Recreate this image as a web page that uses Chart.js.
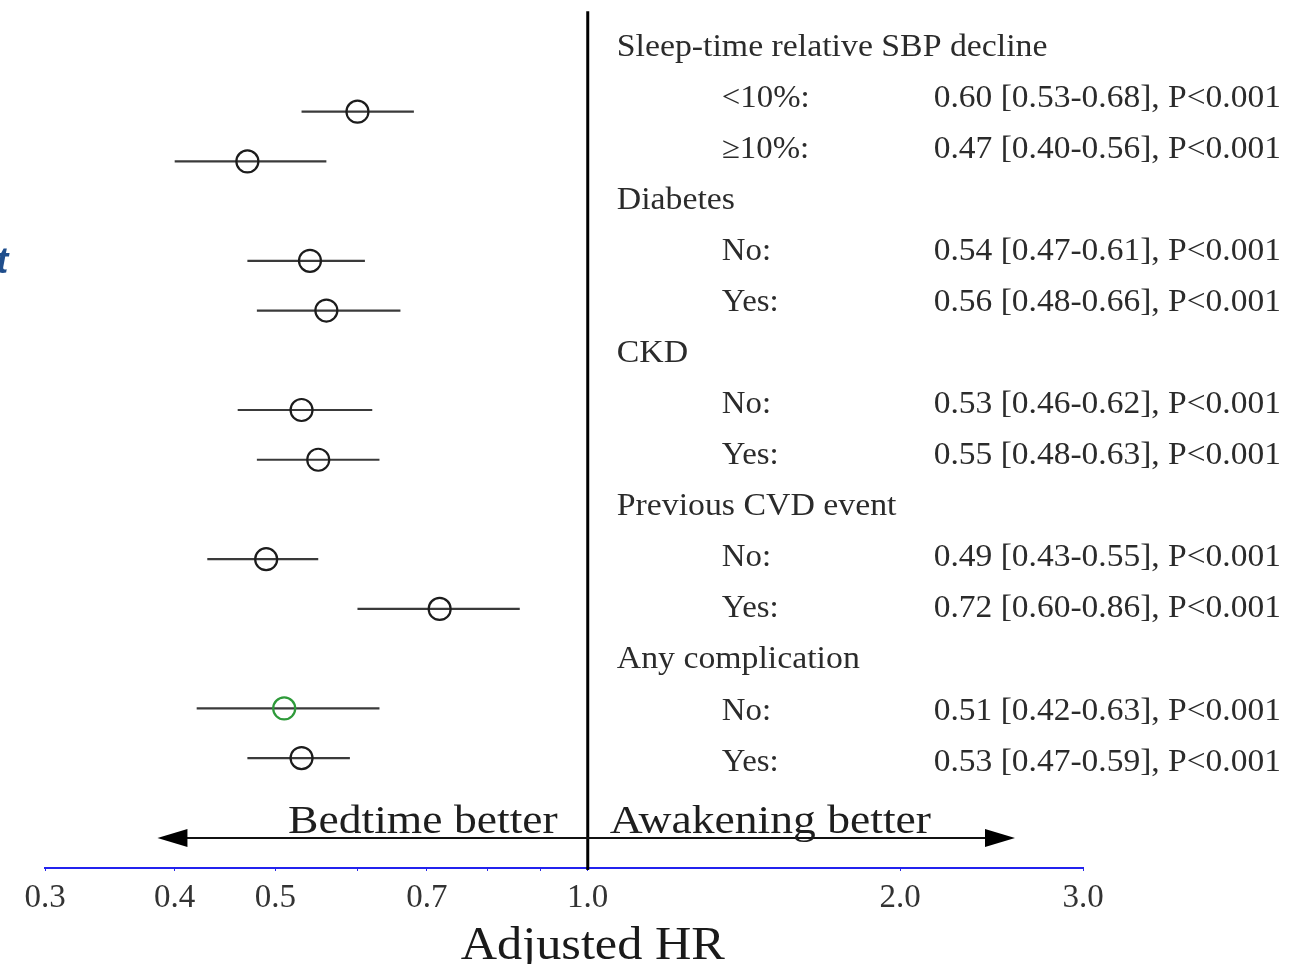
<!DOCTYPE html>
<html>
<head>
<meta charset="utf-8">
<script src="https://cdn.jsdelivr.net/npm/chart.js@4.4.1/dist/chart.umd.min.js"></script>
<style>
  body { margin: 0; background: #fff; }
  canvas { display: block; }
</style>
</head>
<body>
<canvas id="forest" width="1295" height="964"></canvas>
<script>
// subgroup headings and rows
const groups = ['Sleep-time relative SBP decline', 'Diabetes', 'CKD', 'Previous CVD event', 'Any complication'];
const subgroups = ['<10%:', '\u226510%:', 'No:', 'Yes:', 'No:', 'Yes:', 'No:', 'Yes:', 'No:', 'Yes:'];
const groupOf = [0, 0, 1, 1, 2, 2, 3, 3, 4, 4];

// adjusted hazard ratios with 95% CI
const hr = [0.60, 0.47, 0.54, 0.56, 0.53, 0.55, 0.49, 0.72, 0.51, 0.53];
const lower = [0.53, 0.40, 0.47, 0.48, 0.46, 0.48, 0.43, 0.60, 0.42, 0.47];
const upper = [0.68, 0.56, 0.61, 0.66, 0.62, 0.63, 0.55, 0.86, 0.63, 0.59];
const pText = ['<0.001', '<0.001', '<0.001', '<0.001', '<0.001', '<0.001', '<0.001', '<0.001', '<0.001', '<0.001'];

// x axis ticks
const tickValues = [0.3, 0.4, 0.5, 0.6, 0.7, 0.8, 0.9, 1.0, 2.0, 3.0];
const tickLabels = [0.3, 0.4, 0.5, 0.7, 1.0, 2.0, 3.0];

// row slots: heading of group g sits on row 3g, its two rows on 3g+1, 3g+2
const rowOf = subgroups.map((s, i) => groupOf[i] * 3 + 1 + (i % 2));

const serif = '"Liberation Serif", "Times New Roman", serif';
const textColor = '#2b2b2b';

// the source figure was stretched sideways, so text is widened a bit
function wideText(ctx, text, x, y, sx) {
    ctx.save();
    ctx.translate(x, y);
    ctx.scale(sx, 1);
    ctx.fillText(text, 0, 0);
    ctx.restore();
}

const forestPlugin = {
    id: 'forest',
    beforeDatasetsDraw(chart) {
        const { ctx, scales: { x, y } } = chart;
        ctx.save();
        ctx.strokeStyle = '#3a3a3a';
        ctx.lineWidth = 2.2;
        hr.forEach((v, i) => {
            const py = y.getPixelForValue(rowOf[i]);
            ctx.beginPath();
            ctx.moveTo(x.getPixelForValue(lower[i]), py);
            ctx.lineTo(x.getPixelForValue(upper[i]), py);
            ctx.stroke();
        });
        ctx.restore();
    },
    afterDatasetsDraw(chart) {
        const { ctx, chartArea, scales: { x, yt } } = chart;
        const x1 = x.getPixelForValue(1);
        ctx.save();

        // line of no effect
        ctx.strokeStyle = '#000';
        ctx.lineWidth = 3;
        ctx.beginPath();
        ctx.moveTo(x1, chartArea.top - 2);
        ctx.lineTo(x1, chartArea.bottom + 2);
        ctx.stroke();

        // direction arrows
        const ay = chartArea.bottom - 30;
        const left = x.getPixelForValue(0.385);
        const right = x.getPixelForValue(2.58);
        ctx.lineWidth = 2;
        ctx.strokeStyle = '#111';
        ctx.fillStyle = '#000';
        ctx.beginPath();
        ctx.moveTo(left + 20, ay);
        ctx.lineTo(right - 20, ay);
        ctx.stroke();
        ctx.beginPath();
        ctx.moveTo(left, ay);
        ctx.lineTo(left + 30, ay - 9);
        ctx.lineTo(left + 30, ay + 9);
        ctx.closePath();
        ctx.fill();
        ctx.beginPath();
        ctx.moveTo(right, ay);
        ctx.lineTo(right - 30, ay - 9);
        ctx.lineTo(right - 30, ay + 9);
        ctx.closePath();
        ctx.fill();

        ctx.fillStyle = '#1e1e1e';
        ctx.font = '40px ' + serif;
        ctx.textBaseline = 'alphabetic';
        ctx.textAlign = 'right';
        wideText(ctx, 'Bedtime better', x1 - 30, ay - 5, 1.14);
        ctx.textAlign = 'left';
        wideText(ctx, 'Awakening better', x1 + 22, ay - 5, 1.14);

        // right-hand table
        ctx.fillStyle = textColor;
        ctx.font = '31px ' + serif;
        ctx.textBaseline = 'middle';
        ctx.textAlign = 'left';
        groups.forEach((g, k) => {
            wideText(ctx, g, x1 + 29, yt.getPixelForValue(k * 3), 1.09);
        });
        subgroups.forEach((s, i) => {
            const py = yt.getPixelForValue(rowOf[i]);
            wideText(ctx, s, x1 + 134, py, 1.06);
            const t = hr[i].toFixed(2) + ' [' + lower[i].toFixed(2) + '-' + upper[i].toFixed(2) + '], P' + pText[i];
            wideText(ctx, t, x1 + 346, py, 1.08);
        });

        // axis title, centred on the 1.0 line as in the original
        ctx.fillStyle = '#1a1a1a';
        ctx.font = '47px ' + serif;
        ctx.textAlign = 'center';
        ctx.textBaseline = 'alphabetic';
        wideText(ctx, 'Adjusted HR', x1 + 5, chartArea.bottom + 91, 1.07);

        // clipped caption fragment on the left edge
        ctx.fillStyle = '#1f4e8c';
        ctx.font = 'bold italic 37px "Liberation Sans", sans-serif';
        ctx.textAlign = 'left';
        ctx.fillText('t', -4, 273);
        ctx.restore();
    }
};

new Chart(
    document.getElementById('forest'),
    {
        type: 'scatter',
        plugins: [forestPlugin],
        data: {
            datasets: [
                {
                    label: 'Adjusted HR',
                    data: hr.map((v, i) => ({ x: v, y: rowOf[i] })),
                    pointStyle: 'circle',
                    pointRadius: 11,
                    pointBorderWidth: 2.2,
                    backgroundColor: 'rgba(0,0,0,0)',
                    borderColor: hr.map((v, i) => i === 8 ? '#2e9a3a' : '#1c1c1c')
                }
            ]
        },
        options: {
            responsive: false,
            animation: false,
            layout: { padding: { left: 45, right: 212, top: 10, bottom: 0 } },
            plugins: {
                legend: { display: false },
                tooltip: { enabled: false }
            },
            scales: {
                x: {
                    type: 'logarithmic',
                    min: 0.3,
                    max: 3.0,
                    afterBuildTicks: (scale) => {
                        scale.ticks = tickValues.map(v => ({ value: v }));
                    },
                    afterFit: (scale) => { scale.height = 96; },
                    ticks: {
                        autoSkip: false,
                        maxRotation: 0,
                        padding: 8,
                        color: '#333',
                        font: { family: serif, size: 33 },
                        callback: (v) => tickLabels.includes(v) ? v.toFixed(1) : ''
                    },
                    grid: {
                        drawOnChartArea: false,
                        drawTicks: true,
                        tickLength: 3,
                        color: '#2a2ae8'
                    },
                    border: { display: true, color: '#2323ee', width: 2 },
                    title: { display: false }
                },
                y: {
                    type: 'linear',
                    display: false,
                    reverse: true,
                    min: -0.98,
                    max: 16.21
                },
                yt: {
                    type: 'linear',
                    display: false,
                    reverse: true,
                    min: -0.684,
                    max: 16.07
                }
            }
        }
    }
);
</script>
</body>
</html>
